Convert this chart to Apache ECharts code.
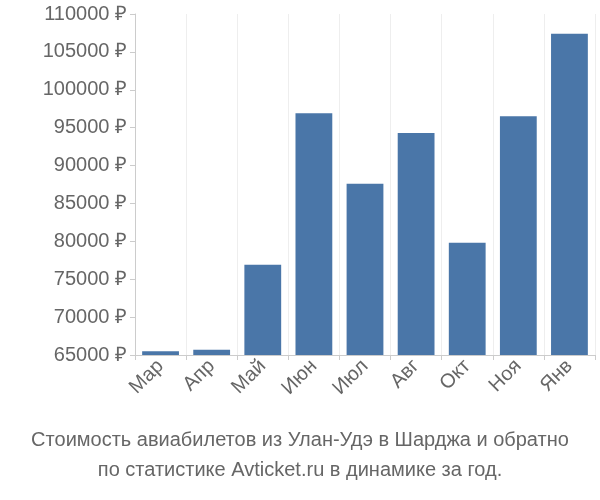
<!DOCTYPE html>
<html><head><meta charset="utf-8">
<script src="https://cdn.jsdelivr.net/npm/echarts@6/dist/echarts.min.js"></script>
<style>html,body{margin:0;padding:0}#c{width:600px;height:500px}</style>
</head><body><div id="c"></div>
<script>
var categories = ["Мар","Апр","Май","Июн","Июл","Авг","Окт","Ноя","Янв"];
var values = [65500,65700,76900,96900,87600,94300,79800,96500,107400];
var chart = echarts.init(document.getElementById('c'));
chart.setOption({
  animation:false,
  title:{text:"Стоимость авиабилетов из Улан-Удэ в Шарджа и обратно\nпо статистике Avticket.ru в динамике за год.",
    left:"center", bottom:10, textStyle:{color:"#666",fontSize:20,fontWeight:"normal",fontFamily:"Liberation Sans",lineHeight:30}},
  grid:{left:135,right:5,top:14,bottom:145},
  xAxis:{type:"category",data:categories,
    axisLine:{lineStyle:{color:"#ccc"}},axisTick:{show:true,lineStyle:{color:"#ccc"}},
    splitLine:{show:true,lineStyle:{color:"#eee"}},
    axisLabel:{rotate:45,color:"#666",fontSize:20,fontFamily:"Liberation Sans",margin:8}},
  yAxis:{type:"value",min:65000,max:110000,interval:5000,
    axisLine:{show:true,lineStyle:{color:"#ccc"}},axisTick:{show:true,lineStyle:{color:"#ccc"}},
    splitLine:{show:false},
    axisLabel:{color:"#666",fontSize:20,fontFamily:"Liberation Sans",formatter:function(v){return v+" ₽";}}},
  series:[{type:"bar",data:values,barWidth:"72%",itemStyle:{color:"#4a76a8"}}]
});
</script></body></html>
